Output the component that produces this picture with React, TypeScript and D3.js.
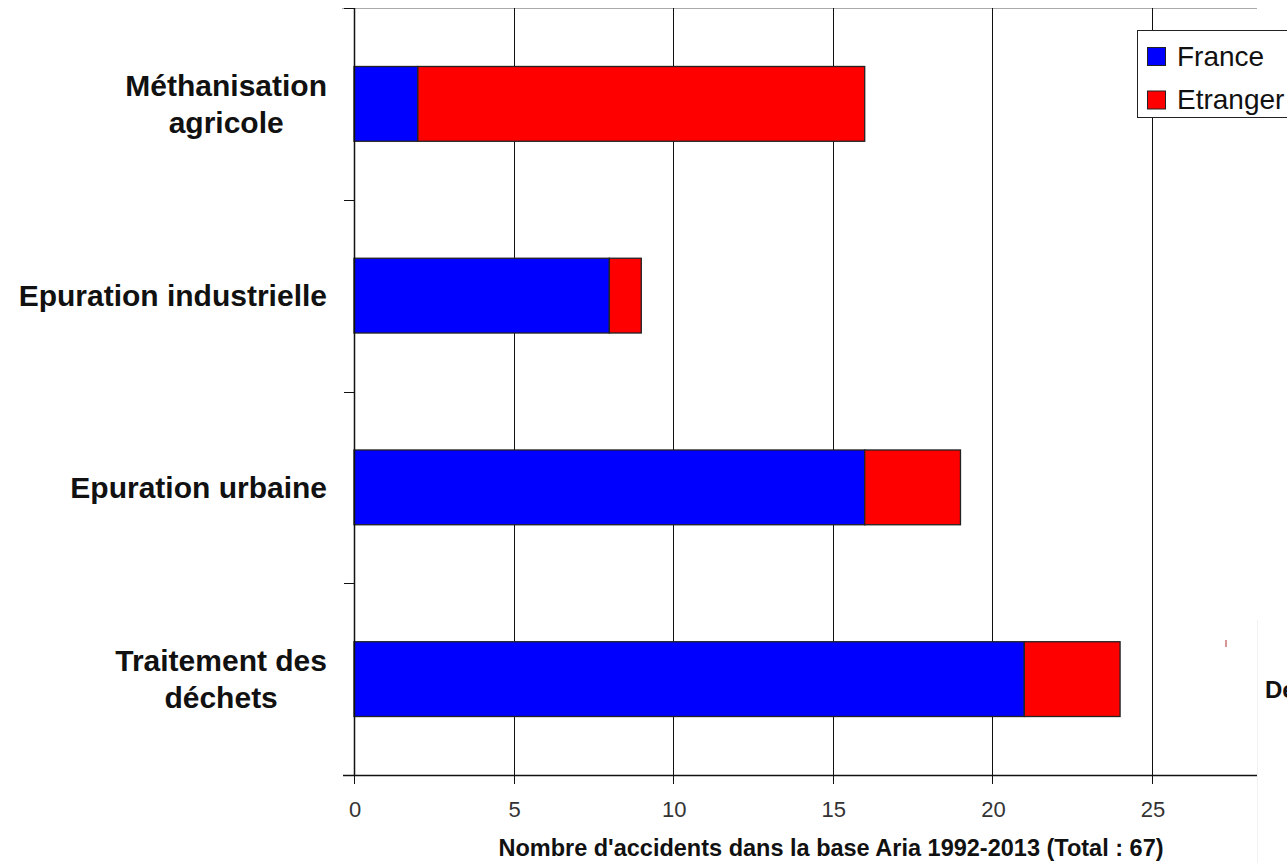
import React, { useEffect, useRef } from 'react';
import * as d3 from 'd3';

const categories = [
  ['Méthanisation', 'agricole'],
  ['Epuration industrielle'],
  ['Epuration urbaine'],
  ['Traitement des', 'déchets'],
];
const france = [2, 8, 16, 21];
const etranger = [14, 1, 3, 3];
const xTicks = [0, 5, 10, 15, 20, 25];
const seriesNames = ['France', 'Etranger'];
const seriesColors = ['#0000ff', '#ff0000'];

const W = 1287;
const H = 863;

const App: React.FC = () => {
  const svgRef = useRef<SVGSVGElement | null>(null);

  useEffect(() => {
    document.body.style.margin = '0';
    const svg = d3.select(svgRef.current);
    svg.selectAll('*').remove();

    const plot = { left: 354, right: 1257, top: 8, bottom: 775 };
    const x = d3.scaleLinear().domain([0, 25]).range([354, 1152]);
    const keys = categories.map(c => c.join(' '));
    const y = d3.scaleBand().domain(keys).range([plot.top, plot.bottom]).padding(0);
    const barH = y.bandwidth() * 0.39;
    const font = 'Liberation Sans, Arial, sans-serif';

    // top border
    svg.append('line')
      .attr('x1', plot.left - 12).attr('x2', plot.right)
      .attr('y1', plot.top + 0.5).attr('y2', plot.top + 0.5)
      .attr('stroke', '#aaa');

    // vertical gridlines
    svg.selectAll('.grid')
      .data(xTicks.filter(t => t > 0))
      .join('line')
      .attr('x1', d => Math.round(x(d)) + 0.5).attr('x2', d => Math.round(x(d)) + 0.5)
      .attr('y1', plot.top).attr('y2', plot.bottom + 9)
      .attr('stroke', '#111');

    // bars
    const rows = keys.map((k, i) => ({ k, f: france[i], e: etranger[i] }));
    const g = svg.append('g');
    rows.forEach(r => {
      const y0 = y(r.k)! + (y.bandwidth() - barH) / 2;
      const segs = [
        { a: 0, b: r.f, c: seriesColors[0] },
        { a: r.f, b: r.f + r.e, c: seriesColors[1] },
      ];
      g.selectAll(null)
        .data(segs)
        .join('rect')
        .attr('x', d => x(d.a))
        .attr('y', y0)
        .attr('width', d => x(d.b) - x(d.a))
        .attr('height', barH)
        .attr('fill', d => d.c)
        .attr('stroke', '#222')
        .attr('stroke-width', 1.3);
    });

    // y axis
    svg.append('line')
      .attr('x1', plot.left + 0.5).attr('x2', plot.left + 0.5)
      .attr('y1', plot.top).attr('y2', plot.bottom)
      .attr('stroke', '#111').attr('stroke-width', 1.5);
    const yTickPos = keys.map(k => y(k)!).concat([plot.bottom]);
    svg.selectAll('.ytick')
      .data(yTickPos)
      .join('line')
      .attr('x1', plot.left - 10).attr('x2', plot.left)
      .attr('y1', d => Math.round(d) + 0.5).attr('y2', d => Math.round(d) + 0.5)
      .attr('stroke', '#111');

    // x axis
    svg.append('line')
      .attr('x1', plot.left - 11).attr('x2', plot.right)
      .attr('y1', plot.bottom + 0.5).attr('y2', plot.bottom + 0.5)
      .attr('stroke', '#111').attr('stroke-width', 1.5);
    svg.selectAll('.xtick')
      .data(xTicks)
      .join('line')
      .attr('x1', d => Math.round(x(d)) + 0.5).attr('x2', d => Math.round(x(d)) + 0.5)
      .attr('y1', plot.bottom).attr('y2', plot.bottom + 9)
      .attr('stroke', '#111');
    svg.selectAll('.xlabel')
      .data(xTicks)
      .join('text')
      .attr('x', d => x(d) + 1)
      .attr('y', 817)
      .attr('text-anchor', 'middle')
      .attr('font-family', font)
      .attr('font-size', 22)
      .attr('fill', '#333')
      .text(d => d);

    svg.append('text')
      .attr('x', 831).attr('y', 856)
      .attr('text-anchor', 'middle')
      .attr('font-family', font)
      .attr('font-weight', 'bold')
      .attr('font-size', 23.5)
      .attr('fill', '#111')
      .text("Nombre d'accidents dans la base Aria 1992-2013 (Total : 67)");

    // category labels: lines centred on each other, block right-aligned
    const labelRight = 327;
    const lineGap = 37;
    categories.forEach((lines, i) => {
      const cy = y(keys[i])! + y.bandwidth() / 2;
      const grp = svg.append('g');
      const texts = lines.map((ln, j) =>
        grp.append('text')
          .attr('y', cy + (j - (lines.length - 1) / 2) * lineGap + 10.5)
          .attr('font-family', font)
          .attr('font-weight', 'bold')
          .attr('font-size', 30)
          .attr('fill', '#111')
          .attr('text-anchor', 'middle')
          .text(ln)
      );
      const maxW = d3.max(texts, t => (t.node() as SVGTextElement).getComputedTextLength()) || 0;
      texts.forEach(t => t.attr('x', labelRight - maxW / 2));
    });

    // legend (cut at the image edge)
    const lg = svg.append('g').attr('transform', 'translate(1137,30)');
    lg.append('rect')
      .attr('x', 0.5).attr('y', 0.5).attr('width', 220).attr('height', 87)
      .attr('fill', '#fff').attr('stroke', '#222');
    seriesNames.forEach((name, i) => {
      const top = 17 + i * 43.5;
      lg.append('rect')
        .attr('x', 10.5).attr('y', top + 0.5).attr('width', 18).attr('height', 18)
        .attr('fill', seriesColors[i]).attr('stroke', '#222');
      lg.append('text')
        .attr('x', 40).attr('y', top + 18.5)
        .attr('font-family', font)
        .attr('font-size', 28)
        .attr('fill', '#111')
        .text(name);
    });

    // cropped remains at right edge
    svg.append('rect')
      .attr('x', 1258).attr('y', 620).attr('width', 29).attr('height', 243)
      .attr('fill', '#fff');
    svg.append('line')
      .attr('x1', 1257.5).attr('x2', 1257.5).attr('y1', 620).attr('y2', H)
      .attr('stroke', '#f2f2f2');
    svg.append('line')
      .attr('x1', 1226).attr('x2', 1226).attr('y1', 640).attr('y2', 647)
      .attr('stroke', '#c0504d').attr('stroke-width', 1.2);
    svg.append('text')
      .attr('x', 1265).attr('y', 698)
      .attr('font-family', font)
      .attr('font-weight', 'bold')
      .attr('font-size', 24)
      .attr('fill', '#111')
      .text('De');
  }, []);

  return (
    <svg
      ref={svgRef}
      width={W}
      height={H}
      style={{ position: 'absolute', left: 0, top: 0, background: '#fff' }}
    />
  );
};

export default App;
